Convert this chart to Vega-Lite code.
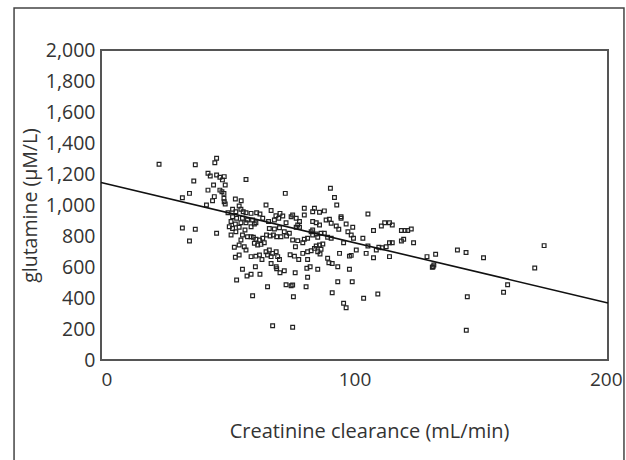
{
  "$schema": "https://vega.github.io/schema/vega-lite/v6.json",
  "width": 507,
  "height": 310,
  "autosize": {"type": "none"},
  "padding": {"left": 101, "top": 50, "right": 18, "bottom": 100},
  "background": "white",
  "config": {
    "view": {"stroke": "#555555", "strokeWidth": 2},
    "font": "Open Sans",
    "axis": {"labelFont": "Open Sans", "titleFont": "Open Sans", "labelColor": "#333333", "titleColor": "#333333", "titleFontWeight": "normal", "grid": false, "domain": false, "ticks": false, "tickSize": 0, "labelOverlap": false}
  },
  "encoding": {
    "x": {"type": "quantitative", "scale": {"domain": [0, 200], "nice": false, "zero": false},
      "axis": {"title": "Creatinine clearance (mL/min)", "values": [0, 100, 200], "labelOverlap": false, "labelFontSize": 19, "labelPadding": 10, "labelFlush": false, "labelAlign": {"expr": "datum.value == 0 ? 'left' : datum.value == 200 ? 'right' : 'center'"}, "labelOffset": {"expr": "datum.value == 200 ? 14 : 0"}, "titleFontSize": 20, "titlePadding": 32, "titleX": 268, "titleAlign": "center"}},
    "y": {"type": "quantitative", "scale": {"domain": [0, 2000], "nice": false, "zero": false},
      "axis": {"title": "glutamine (µM/L)", "values": [0, 200, 400, 600, 800, 1000, 1200, 1400, 1600, 1800, 2000], "format": ",d", "labelOverlap": false, "labelFontSize": 19.5, "labelPadding": 6, "titleFontSize": 19.5, "titlePadding": 5}}
  },
  "layer": [
    {
      "data": {"values": [
        {"cc": 22.9, "gln": 1263}, {"cc": 37.2, "gln": 1260}, {"cc": 45.6, "gln": 1301}, {"cc": 44.9, "gln": 1273}, {"cc": 42.2, "gln": 1205}, {"cc": 43.1, "gln": 1187}, {"cc": 45.6, "gln": 1194}, {"cc": 46.9, "gln": 1179}, {"cc": 48.6, "gln": 1183}, {"cc": 47.9, "gln": 1162},
        {"cc": 36.6, "gln": 1155}, {"cc": 44.4, "gln": 1129}, {"cc": 49.0, "gln": 1129}, {"cc": 57.2, "gln": 1164}, {"cc": 42.2, "gln": 1096}, {"cc": 46.9, "gln": 1096}, {"cc": 47.7, "gln": 1086}, {"cc": 34.9, "gln": 1075}, {"cc": 32.1, "gln": 1047}, {"cc": 44.7, "gln": 1054},
        {"cc": 48.5, "gln": 1075}, {"cc": 48.5, "gln": 1044}, {"cc": 44.0, "gln": 1028}, {"cc": 48.6, "gln": 1021}, {"cc": 49.0, "gln": 1007}, {"cc": 53.0, "gln": 1039}, {"cc": 55.3, "gln": 1028}, {"cc": 41.6, "gln": 1000}, {"cc": 54.5, "gln": 994}, {"cc": 50.1, "gln": 950},
        {"cc": 51.9, "gln": 972}, {"cc": 53.2, "gln": 957}, {"cc": 55.2, "gln": 972}, {"cc": 56.1, "gln": 957}, {"cc": 57.2, "gln": 950}, {"cc": 51.9, "gln": 924}, {"cc": 53.5, "gln": 915}, {"cc": 55.8, "gln": 915}, {"cc": 57.8, "gln": 903}, {"cc": 51.3, "gln": 893},
        {"cc": 53.0, "gln": 877}, {"cc": 55.2, "gln": 886}, {"cc": 57.2, "gln": 886}, {"cc": 50.6, "gln": 860}, {"cc": 51.9, "gln": 849}, {"cc": 54.5, "gln": 856}, {"cc": 56.8, "gln": 839}, {"cc": 53.2, "gln": 828}, {"cc": 32.1, "gln": 851}, {"cc": 37.2, "gln": 844},
        {"cc": 45.6, "gln": 818}, {"cc": 34.9, "gln": 768}, {"cc": 51.3, "gln": 806}, {"cc": 55.8, "gln": 806}, {"cc": 55.2, "gln": 774}, {"cc": 57.8, "gln": 795}, {"cc": 54.5, "gln": 742}, {"cc": 56.5, "gln": 731}, {"cc": 52.6, "gln": 727}, {"cc": 53.0, "gln": 663},
        {"cc": 54.5, "gln": 677}, {"cc": 57.2, "gln": 710}, {"cc": 55.8, "gln": 585}, {"cc": 53.5, "gln": 516}, {"cc": 57.6, "gln": 542},
        {"cc": 59.2, "gln": 946}, {"cc": 61.4, "gln": 950}, {"cc": 62.7, "gln": 942}, {"cc": 63.8, "gln": 915}, {"cc": 65.1, "gln": 1000}, {"cc": 67.1, "gln": 964}, {"cc": 69.0, "gln": 931}, {"cc": 70.6, "gln": 946}, {"cc": 71.7, "gln": 929}, {"cc": 72.7, "gln": 1075},
        {"cc": 59.8, "gln": 903}, {"cc": 60.5, "gln": 877}, {"cc": 59.2, "gln": 860}, {"cc": 61.1, "gln": 886}, {"cc": 66.1, "gln": 893}, {"cc": 68.4, "gln": 903}, {"cc": 70.1, "gln": 915}, {"cc": 66.4, "gln": 849}, {"cc": 68.4, "gln": 845}, {"cc": 70.4, "gln": 853},
        {"cc": 65.3, "gln": 806}, {"cc": 66.7, "gln": 800}, {"cc": 68.0, "gln": 806}, {"cc": 69.3, "gln": 795}, {"cc": 71.0, "gln": 795}, {"cc": 63.8, "gln": 785}, {"cc": 62.5, "gln": 774}, {"cc": 61.1, "gln": 779}, {"cc": 60.1, "gln": 792}, {"cc": 59.2, "gln": 795},
        {"cc": 61.8, "gln": 742}, {"cc": 63.1, "gln": 746}, {"cc": 64.4, "gln": 757}, {"cc": 60.5, "gln": 753}, {"cc": 65.1, "gln": 698}, {"cc": 66.4, "gln": 710}, {"cc": 67.7, "gln": 688}, {"cc": 69.1, "gln": 698}, {"cc": 65.7, "gln": 677}, {"cc": 67.1, "gln": 667},
        {"cc": 69.7, "gln": 667}, {"cc": 70.4, "gln": 649}, {"cc": 62.5, "gln": 677}, {"cc": 63.5, "gln": 649}, {"cc": 59.2, "gln": 667}, {"cc": 67.1, "gln": 623}, {"cc": 69.1, "gln": 602}, {"cc": 69.3, "gln": 589}, {"cc": 70.6, "gln": 563}, {"cc": 72.3, "gln": 576},
        {"cc": 60.9, "gln": 602}, {"cc": 59.2, "gln": 553}, {"cc": 62.7, "gln": 553}, {"cc": 65.7, "gln": 473}, {"cc": 59.8, "gln": 415}, {"cc": 67.7, "gln": 221}, {"cc": 75.6, "gln": 211}, {"cc": 73.0, "gln": 886}, {"cc": 75.0, "gln": 924}, {"cc": 75.6, "gln": 936},
        {"cc": 77.0, "gln": 915}, {"cc": 78.3, "gln": 893}, {"cc": 77.6, "gln": 871}, {"cc": 77.0, "gln": 856}, {"cc": 78.3, "gln": 856}, {"cc": 80.2, "gln": 979}, {"cc": 80.2, "gln": 936}, {"cc": 83.5, "gln": 957}, {"cc": 84.2, "gln": 979}, {"cc": 86.2, "gln": 953},
        {"cc": 88.1, "gln": 962}, {"cc": 90.5, "gln": 1108}, {"cc": 92.1, "gln": 1049}, {"cc": 93.0, "gln": 1000}, {"cc": 72.3, "gln": 828}, {"cc": 73.2, "gln": 800}, {"cc": 74.3, "gln": 818}, {"cc": 75.6, "gln": 774}, {"cc": 76.7, "gln": 731}, {"cc": 77.6, "gln": 770},
        {"cc": 79.6, "gln": 757}, {"cc": 80.2, "gln": 779}, {"cc": 81.5, "gln": 785}, {"cc": 82.9, "gln": 828}, {"cc": 83.5, "gln": 806}, {"cc": 84.9, "gln": 813}, {"cc": 85.5, "gln": 792}, {"cc": 86.8, "gln": 818}, {"cc": 89.4, "gln": 792}, {"cc": 90.8, "gln": 785},
        {"cc": 88.1, "gln": 818}, {"cc": 83.5, "gln": 893}, {"cc": 84.9, "gln": 886}, {"cc": 86.2, "gln": 871}, {"cc": 83.5, "gln": 839}, {"cc": 88.8, "gln": 903}, {"cc": 90.1, "gln": 908}, {"cc": 90.8, "gln": 882}, {"cc": 92.8, "gln": 865}, {"cc": 93.8, "gln": 844},
        {"cc": 94.7, "gln": 915}, {"cc": 94.7, "gln": 924}, {"cc": 96.7, "gln": 877}, {"cc": 97.4, "gln": 828}, {"cc": 99.3, "gln": 856}, {"cc": 98.7, "gln": 806}, {"cc": 99.6, "gln": 785}, {"cc": 103.3, "gln": 785}, {"cc": 105.3, "gln": 942}, {"cc": 107.5, "gln": 835},
        {"cc": 110.6, "gln": 865}, {"cc": 111.9, "gln": 886}, {"cc": 113.8, "gln": 886}, {"cc": 114.9, "gln": 871}, {"cc": 118.5, "gln": 835}, {"cc": 119.9, "gln": 835}, {"cc": 121.0, "gln": 835}, {"cc": 122.4, "gln": 845}, {"cc": 123.3, "gln": 757}, {"cc": 119.4, "gln": 779},
        {"cc": 118.5, "gln": 768}, {"cc": 113.8, "gln": 757}, {"cc": 114.9, "gln": 757}, {"cc": 113.8, "gln": 667}, {"cc": 112.5, "gln": 731}, {"cc": 110.9, "gln": 724}, {"cc": 109.6, "gln": 727}, {"cc": 108.6, "gln": 710}, {"cc": 107.5, "gln": 660}, {"cc": 105.3, "gln": 736},
        {"cc": 104.6, "gln": 688}, {"cc": 95.7, "gln": 757}, {"cc": 94.1, "gln": 688}, {"cc": 98.0, "gln": 670}, {"cc": 98.7, "gln": 675}, {"cc": 100.7, "gln": 710}, {"cc": 79.6, "gln": 688}, {"cc": 78.0, "gln": 649}, {"cc": 81.5, "gln": 698}, {"cc": 82.9, "gln": 705},
        {"cc": 84.2, "gln": 720}, {"cc": 84.9, "gln": 736}, {"cc": 86.2, "gln": 742}, {"cc": 86.8, "gln": 714}, {"cc": 87.5, "gln": 748}, {"cc": 85.5, "gln": 698}, {"cc": 86.4, "gln": 684}, {"cc": 74.6, "gln": 679}, {"cc": 76.3, "gln": 670}, {"cc": 81.5, "gln": 649},
        {"cc": 81.2, "gln": 592}, {"cc": 82.5, "gln": 602}, {"cc": 85.5, "gln": 585}, {"cc": 89.4, "gln": 656}, {"cc": 89.9, "gln": 628}, {"cc": 91.2, "gln": 623}, {"cc": 93.4, "gln": 602}, {"cc": 98.0, "gln": 585}, {"cc": 81.5, "gln": 534}, {"cc": 80.9, "gln": 473},
        {"cc": 75.6, "gln": 484}, {"cc": 75.0, "gln": 479}, {"cc": 73.0, "gln": 486}, {"cc": 75.9, "gln": 408}, {"cc": 91.2, "gln": 434}, {"cc": 93.4, "gln": 505}, {"cc": 99.1, "gln": 505}, {"cc": 103.6, "gln": 398}, {"cc": 109.2, "gln": 426}, {"cc": 95.7, "gln": 366},
        {"cc": 96.7, "gln": 337}, {"cc": 128.6, "gln": 667}, {"cc": 132.0, "gln": 682}, {"cc": 131.0, "gln": 602}, {"cc": 131.3, "gln": 613}, {"cc": 130.7, "gln": 598}, {"cc": 76.6, "gln": 563}, {"cc": 61.1, "gln": 670},
        {"cc": 140.6, "gln": 710}, {"cc": 144.0, "gln": 693}, {"cc": 150.9, "gln": 660}, {"cc": 174.8, "gln": 738}, {"cc": 171.1, "gln": 594}, {"cc": 160.4, "gln": 486}, {"cc": 158.8, "gln": 437}, {"cc": 144.5, "gln": 408}, {"cc": 144.1, "gln": 192}
      ]},
      "mark": {"type": "square", "filled": false, "size": 14, "stroke": "#222222", "strokeWidth": 1.2, "opacity": 1},
      "encoding": {
        "x": {"field": "cc", "type": "quantitative"},
        "y": {"field": "gln", "type": "quantitative"}
      }
    },
    {
      "data": {"values": [{"cc": 0, "gln": 1145}, {"cc": 200, "gln": 368}]},
      "mark": {"type": "line", "color": "#111111", "strokeWidth": 1.6},
      "encoding": {
        "x": {"field": "cc", "type": "quantitative"},
        "y": {"field": "gln", "type": "quantitative"}
      }
    },
    {
      "data": {"values": [{"frame": "outer"}]},
      "mark": {"type": "rect", "filled": false, "stroke": "#444444", "strokeWidth": 1.5, "clip": false},
      "encoding": {
        "x": {"datum": -34.3, "type": "quantitative"},
        "x2": {"datum": 206.3},
        "y": {"datum": 2271, "type": "quantitative"},
        "y2": {"datum": -710}
      }
    }
  ]
}
